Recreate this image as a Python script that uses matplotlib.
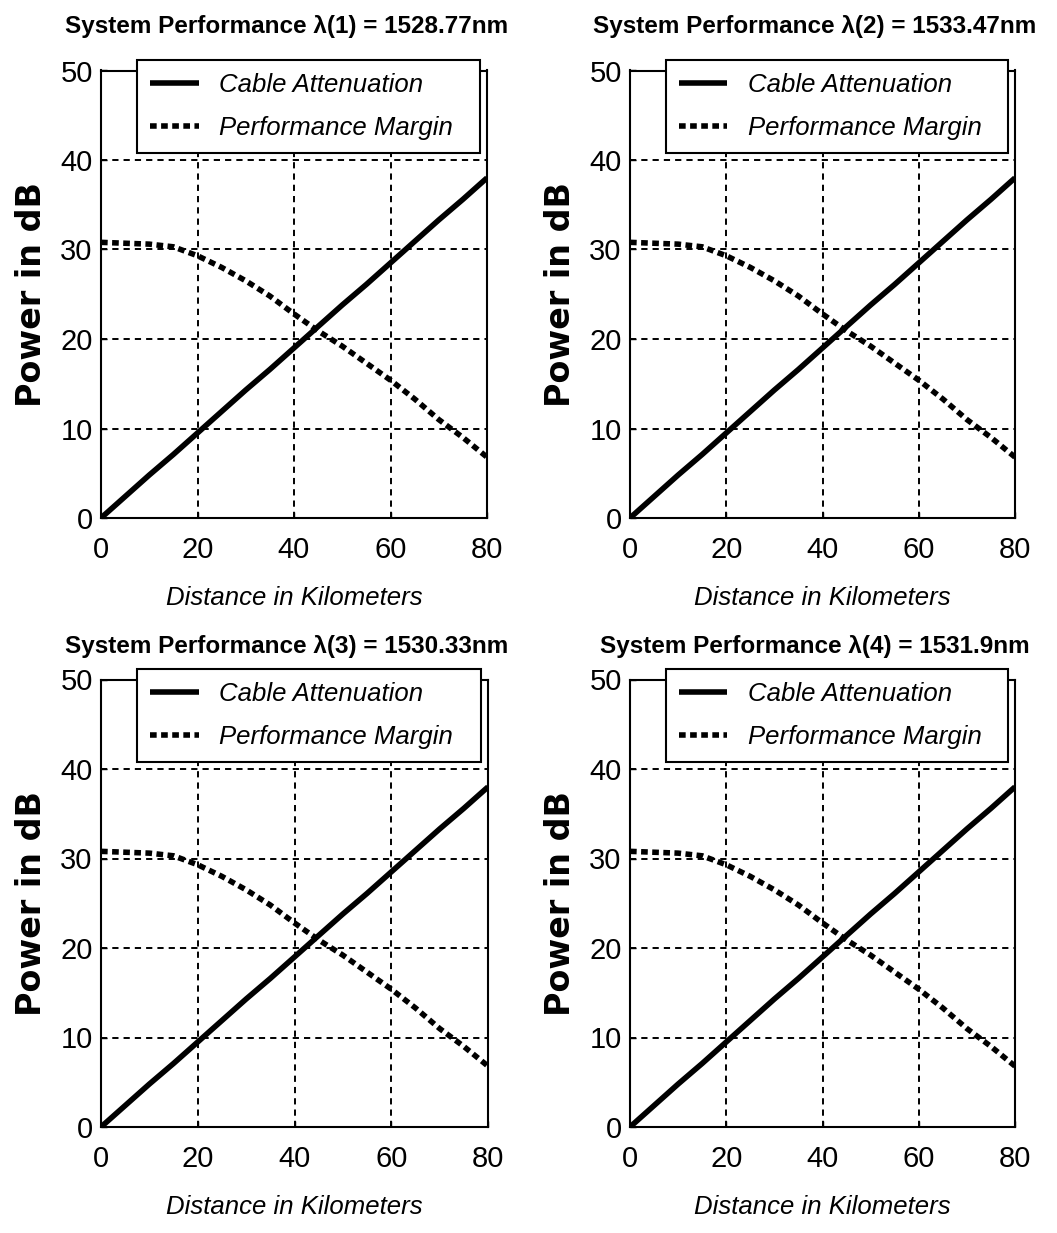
import matplotlib.pyplot as plt

# distance (km) and the two curves
dist = [0, 5, 10, 15, 20, 25, 30, 35, 40, 45, 50, 55, 60, 65, 70, 75, 80]
cable = [0, 2.4, 4.8, 7.1, 9.5, 11.9, 14.3, 16.6, 19.0, 21.4, 23.8, 26.1, 28.5, 30.9, 33.3, 35.6, 38.0]
margin = [30.8, 30.7, 30.6, 30.3, 29.3, 28.0, 26.5, 24.8, 22.8, 20.9, 19.2, 17.3, 15.4, 13.3, 11.0, 9.0, 6.8]

titles = ['System Performance \u03bb(1) = 1528.77nm',
          'System Performance \u03bb(2) = 1533.47nm',
          'System Performance \u03bb(3) = 1530.33nm',
          'System Performance \u03bb(4) = 1531.9nm']
xticks = [0, 20, 40, 60, 80]
yticks = [0, 10, 20, 30, 40, 50]

arial = ['Liberation Sans', 'DejaVu Sans']

fig = plt.figure(figsize=(10.57, 12.33), dpi=100)
W, H = 1057, 1233
# pixel boxes of each plot area (left, top, right, bottom)
boxes = [(101, 70.5, 487, 518), (630, 70.5, 1015, 518),
         (101, 679.5, 488, 1127), (630, 679.5, 1015, 1127)]
title_pads = [27, 27, 19, 19]

for box, title, tpad in zip(boxes, titles, title_pads):
    l, t, r, b = box
    ax = fig.add_axes([l / W, 1 - b / H, (r - l) / W, (b - t) / H])
    ax.plot(dist, cable, color='black', lw=4, solid_capstyle='butt', label='Cable Attenuation')
    ax.plot(dist, margin, color='black', lw=4, linestyle=(0, (1.2, 0.8)),
            dash_capstyle='butt', label='Performance Margin')
    ax.set_xlim(0, 80)
    ax.set_ylim(0, 50)
    ax.set_xticks(xticks)
    ax.set_yticks(yticks)
    ax.grid(True, color='black', linestyle=(0, (3.2, 2.6)), lw=1.4)
    ax.tick_params(direction='in', length=4, width=1, labelsize=21)
    ax.tick_params(axis='x', pad=13)
    ax.tick_params(axis='y', pad=6)
    for lab in ax.get_xticklabels() + ax.get_yticklabels():
        lab.set_family(arial)
    for s in ax.spines.values():
        s.set_linewidth(1.5)
    ax.set_title(title, family=arial, fontweight='bold', fontsize=17.5, pad=tpad, x=0.48)
    ax.set_xlabel('Distance in Kilometers', family=arial, style='italic', fontsize=18.5, labelpad=16)
    ax.set_ylabel('Power in dB', family='DejaVu Sans', fontweight='bold', fontsize=24, labelpad=9)
    leg = ax.legend(loc='upper left', bbox_to_anchor=(0.093, 0.811, 0.889, 0.212), mode='expand',
                    borderaxespad=0, fancybox=False, framealpha=1, edgecolor='black',
                    handlelength=1.9, handletextpad=0.8, labelspacing=0.75, borderpad=0.5,
                    prop={'family': arial, 'style': 'italic', 'size': 18.5})
    leg.get_frame().set_linewidth(1.5)

fig.savefig('out.png', dpi=100)
